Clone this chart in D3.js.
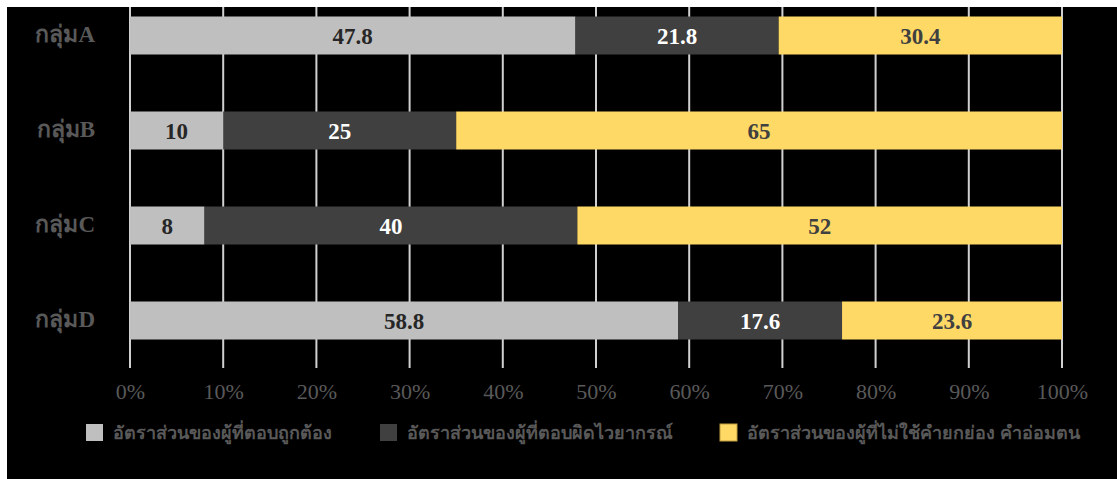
<!DOCTYPE html>
<html>
<head>
<meta charset="utf-8">
<script src="https://cdn.jsdelivr.net/npm/d3@7"></script>
<style>
  html, body { margin: 0; padding: 0; background: #fff; }
  svg { display: block; }
</style>
</head>
<body>
<svg id="chart" width="1117" height="479"></svg>
<script>
// Groups and the three shares (percent) for each group
const groups = ["กลุ่มA", "กลุ่มB", "กลุ่มC", "กลุ่มD"];
const correct = [47.8, 10, 8, 58.8];
const wrong = [21.8, 25, 40, 17.6];
const notUsed = [30.4, 65, 52, 23.6];
const seriesNames = [
  "อัตราส่วนของผู้ที่ตอบถูกต้อง",
  "อัตราส่วนของผู้ที่ตอบผิดไวยากรณ์",
  "อัตราส่วนของผู้ที่ไม่ใช้คำยกย่อง คำอ่อมตน"
];
const tickValues = [0, 10, 20, 30, 40, 50, 60, 70, 80, 90, 100];

const colors = ["#bfbfbf", "#404040", "#ffd966"];
const labelColors = ["#262626", "#ffffff", "#404040"];
const seriesValues = [correct, wrong, notUsed];

const svg = d3.select("#chart");
const fontFam = "'Liberation Serif', 'Times New Roman', serif";

// dark panel
svg.append("rect").attr("x", 7).attr("y", 7).attr("width", 1110).attr("height", 472).attr("fill", "#000");

const x = d3.scaleLinear().domain([0, 100]).range([130, 1062]);
const y = d3.scaleBand().domain(groups).range([-12, 368]).paddingInner(0.6).paddingOuter(0.3);

// vertical gridlines
svg.append("g").selectAll("line").data(tickValues).join("line")
  .attr("x1", d => x(d)).attr("x2", d => x(d))
  .attr("y1", 7).attr("y2", 368)
  .attr("stroke", "#d0d0d0").attr("stroke-width", 2);

// stacked rows
const rows = groups.map((g, i) => {
  let acc = 0;
  return seriesValues.map((s, k) => {
    const seg = { group: g, k, v: s[i], x0: acc, x1: acc + s[i] };
    acc += s[i];
    return seg;
  });
}).flat();

svg.append("g").selectAll("rect").data(rows).join("rect")
  .attr("x", d => x(d.x0))
  .attr("y", d => y(d.group))
  .attr("width", d => x(d.x1) - x(d.x0))
  .attr("height", y.bandwidth())
  .attr("fill", d => colors[d.k]);

svg.append("g").selectAll("text").data(rows).join("text")
  .attr("x", d => (x(d.x0) + x(d.x1)) / 2)
  .attr("y", d => y(d.group) + y.bandwidth() / 2)
  .attr("dy", "0.36em")
  .attr("text-anchor", "middle")
  .attr("font-family", fontFam)
  .attr("font-weight", "bold")
  .attr("font-size", 23)
  .attr("fill", d => labelColors[d.k])
  .text(d => d.v);

// category labels
svg.append("g").selectAll("text").data(groups).join("text")
  .attr("x", 95)
  .attr("y", d => y(d) + y.bandwidth() / 2)
  .attr("dy", "0.3em")
  .attr("text-anchor", "end")
  .attr("font-family", fontFam)
  .attr("font-weight", "bold")
  .attr("font-size", 23)
  .attr("fill", "#595959")
  .text(d => d);

// x axis labels
const xAxis = d3.axisBottom(x).tickValues(tickValues).tickSize(0).tickPadding(0).tickFormat(d => d + "%");
const ax = svg.append("g").attr("transform", "translate(0,383)").call(xAxis);
ax.select(".domain").remove();
ax.selectAll("text")
  .attr("font-family", fontFam)
  .attr("font-size", 22)
  .attr("fill", "#595959");

// legend
const legendX = [86, 380, 720];
const lg = svg.append("g").selectAll("g").data(seriesNames).join("g")
  .attr("transform", (d, i) => `translate(${legendX[i]},424)`);
lg.append("rect").attr("width", 17).attr("height", 17)
  .attr("fill", (d, i) => colors[i])
  .attr("stroke", (d, i) => i === 2 ? "#bf9f40" : "none").attr("stroke-width", 1);
lg.append("text").attr("x", 27).attr("y", 9).attr("dy", "0.36em")
  .attr("font-family", fontFam)
  .attr("font-weight", "bold")
  .attr("font-size", 18)
  .attr("fill", "#595959")
  .text(d => d);
</script>
</body>
</html>
